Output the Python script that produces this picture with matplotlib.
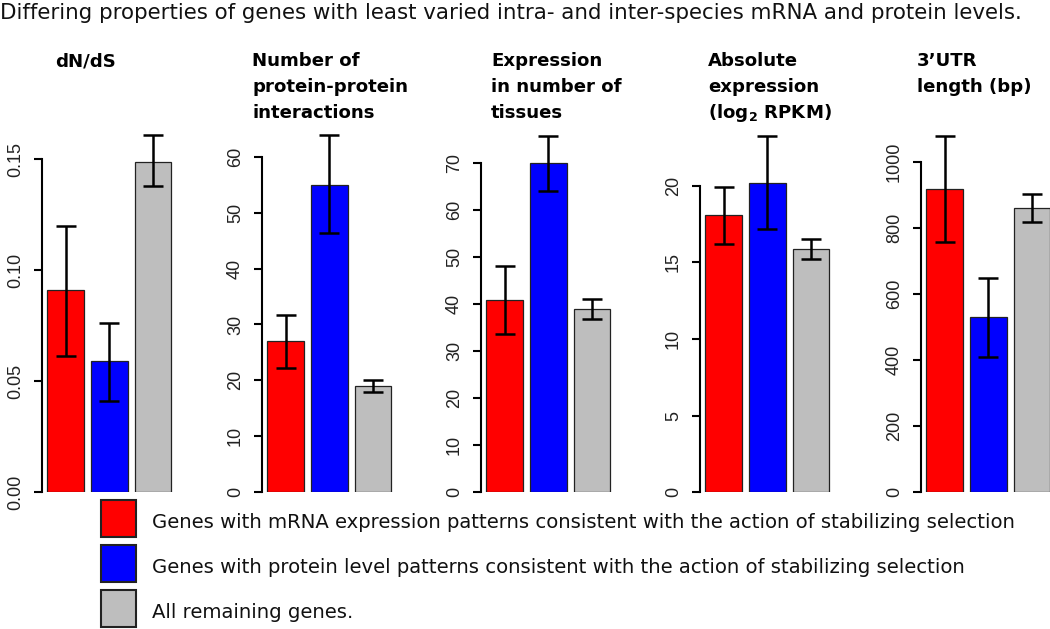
import matplotlib
matplotlib.use("Agg")
import matplotlib.pyplot as plt
from matplotlib.patches import Rectangle

plt.rcParams['font.family'] = ['DejaVu Sans']
plt.rcParams['mathtext.fontset'] = 'custom'
plt.rcParams['mathtext.rm'] = 'DejaVu Sans'
plt.rcParams['mathtext.bf'] = 'DejaVu Sans:bold'

# --- data ---
main_title = ("Differing properties of genes with least varied intra- "
              "and inter-species mRNA and protein levels.")
panel_titles = [
    ["dN/dS"],
    ["Number of", "protein-protein", "interactions"],
    ["Expression", "in number of", "tissues"],
    ["Absolute", "expression", r"(log$_{\mathbf{2}}$ RPKM)"],
    ["3\u2019UTR", "length (bp)"],
]
group_labels = [
    "Genes with mRNA expression patterns consistent with the action of stabilizing selection",
    "Genes with protein level patterns consistent with the action of stabilizing selection",
    "All remaining genes.",
]
mrna_vals = [0.091, 27.0, 40.9, 18.1, 916]
mrna_lo = [0.0615, 22.2, 33.6, 16.2, 756]
mrna_hi = [0.120, 31.7, 48.1, 19.9, 1079]
protein_vals = [0.059, 55.0, 70.0, 20.2, 529]
protein_lo = [0.041, 46.4, 64.0, 17.2, 410]
protein_hi = [0.0764, 63.8, 75.9, 23.26, 647]
rest_vals = [0.149, 19.0, 38.9, 15.87, 859]
rest_lo = [0.138, 18.0, 36.8, 15.24, 819]
rest_hi = [0.161, 20.0, 41.1, 16.5, 901]
y_ticks = [
    [0.00, 0.05, 0.10, 0.15],
    [0, 10, 20, 30, 40, 50, 60],
    [0, 10, 20, 30, 40, 50, 60, 70],
    [0, 5, 10, 15, 20],
    [0, 200, 400, 600, 800, 1000],
]
y_ticklabels = [
    ["0.00", "0.05", "0.10", "0.15"],
    ["0", "10", "20", "30", "40", "50", "60"],
    ["0", "10", "20", "30", "40", "50", "60", "70"],
    ["0", "5", "10", "15", "20"],
    ["0", "200", "400", "600", "800", "1000"],
]
y_top = [0.1632, 64.77, 77.08, 23.63, 1095.9]

colors = ["#FF0000", "#0000FF", "#BEBEBE"]

W, H = 1050, 629
fig = plt.figure(figsize=(W / 100, H / 100), dpi=100)


def fx(px):
    return px / W


def fy(py):
    return 1 - py / H


axis_left = [42, 262, 481, 700, 921]
title_left = [55, 252, 491, 708, 917]
ax_top, ax_bottom = 130, 492.3
ax_w = 142

fig.text(fx(0), fy(19), main_title, fontsize=15.4, ha='left', va='baseline',
         color='#111111')

for i in range(5):
    ax = fig.add_axes([fx(axis_left[i]), fy(ax_bottom), ax_w / W, (ax_bottom - ax_top) / H])
    vals = [mrna_vals[i], protein_vals[i], rest_vals[i]]
    lo = [mrna_lo[i], protein_lo[i], rest_lo[i]]
    hi = [mrna_hi[i], protein_hi[i], rest_hi[i]]
    xs = [0.7, 1.9, 3.1]
    ax.bar(xs, vals, width=1.0, color=colors, edgecolor='#222222', linewidth=0.9)
    yerr = [[v - l for v, l in zip(vals, lo)], [h - v for v, h in zip(vals, hi)]]
    ax.errorbar(xs, vals, yerr=yerr, fmt='none', ecolor='black', elinewidth=1.8,
                capsize=7.5, capthick=1.8, clip_on=False)
    ax.set_xlim(0.056, 3.944)
    ax.set_ylim(0, y_top[i])
    for s in ['top', 'right', 'bottom']:
        ax.spines[s].set_visible(False)
    ax.spines['left'].set_linewidth(1.5)
    ax.spines['left'].set_bounds(y_ticks[i][0], y_ticks[i][-1])
    ax.set_xticks([])
    ax.set_yticks(y_ticks[i])
    ax.set_yticklabels(y_ticklabels[i], rotation=90, va='center', fontsize=13,
                       family='Liberation Sans', color='#222222')
    ax.tick_params(axis='y', length=6, width=1.5, pad=7)
    ax.patch.set_visible(False)

    for j, line in enumerate(panel_titles[i]):
        fig.text(fx(title_left[i]), fy(66 + 26 * j), line, fontsize=13.1,
                 fontweight='bold', ha='left', va='baseline')

# legend
box_top = [500, 545, 590]
for k in range(3):
    fig.patches.append(Rectangle((fx(101), fy(box_top[k] + 37)), 35 / W, 37 / H,
                                 transform=fig.transFigure, facecolor=colors[k],
                                 edgecolor='#222222', linewidth=1.5))
    fig.text(fx(152), fy(box_top[k] + 28), group_labels[k], fontsize=14.1,
             ha='left', va='baseline', color='#111111')

fig.savefig("out.png", dpi=100)
